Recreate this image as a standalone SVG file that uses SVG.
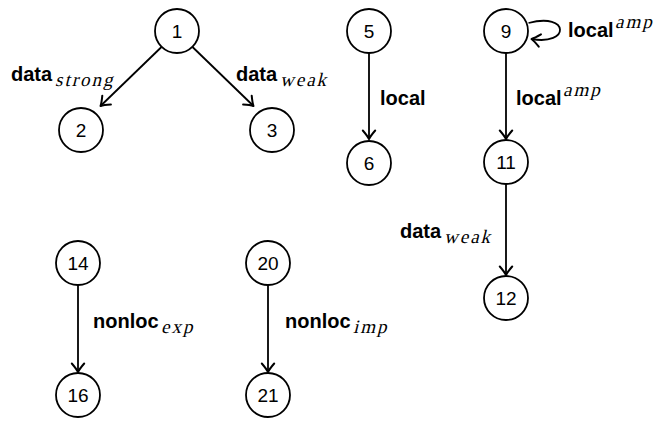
<svg xmlns="http://www.w3.org/2000/svg" width="659" height="426" viewBox="0 0 659 426">
<defs>
<marker id="ah" markerUnits="userSpaceOnUse" markerWidth="16" markerHeight="16" refX="12.5" refY="8" orient="auto" viewBox="0 0 16 16">
<path d="M4,1.8 Q9.5,6.5 12.5,8 Q9.5,9.5 4,14.2" fill="none" stroke="#000" stroke-width="2" stroke-linecap="round" stroke-linejoin="round"/>
</marker>
</defs>
<style>
.n circle{fill:#fff;stroke:#000;stroke-width:1.8}
.n text{font-family:"Liberation Sans",Arial,sans-serif;font-size:19px;text-anchor:middle;fill:#000}
.e{fill:none;stroke:#000;stroke-width:1.8;marker-end:url(#ah)}
.lb{font-family:"Liberation Sans",Arial,sans-serif;font-size:20px;font-weight:bold;fill:#000}
.m{font-family:"Liberation Serif","Times New Roman",serif;font-style:normal;font-size:19px;font-weight:normal;letter-spacing:2px;fill:#000}
</style>
<rect width="659" height="426" fill="#fff"/>
<g id="connectors">
<path class="e" d="M161.5,47 L100.5,106"/>
<path class="e" d="M192.5,47 L253.5,106"/>
<path class="e" d="M369,53 L369,139"/>
<path class="e" d="M506,53 L506,139"/>
<path class="e" d="M528.5,23 C570,12 570,46 531.5,39"/>
<path class="e" d="M506,184 L506,275"/>
<path class="e" d="M78,285 L78,372"/>
<path class="e" d="M268,285 L268,372"/>
</g>
<g id="labels">
<text class="lb" x="11" y="81">data</text>
<text class="m" transform="translate(55,86) skewX(-14)">strong</text>
<text class="lb" x="236" y="81">data</text>
<text class="m" transform="translate(280,86) skewX(-14)">weak</text>
<text class="lb" x="380" y="105">local</text>
<text class="lb" x="568" y="37">local</text>
<text class="m" transform="translate(615,28) skewX(-14)">amp</text>
<text class="lb" x="516" y="105">local</text>
<text class="m" transform="translate(563,96) skewX(-14)">amp</text>
<text class="lb" x="400" y="238">data</text>
<text class="m" transform="translate(444,243) skewX(-14)">weak</text>
<text class="lb" x="93" y="328">nonloc</text>
<text class="m" transform="translate(161,333) skewX(-14)">exp</text>
<text class="lb" x="285" y="328">nonloc</text>
<text class="m" transform="translate(353,333) skewX(-14)">imp</text>
</g>
<g id="node1" class="n"><circle cx="177" cy="31" r="22"/><text x="177" y="38">1</text></g>
<g id="node2" class="n"><circle cx="81" cy="130" r="22"/><text x="81" y="137">2</text></g>
<g id="node3" class="n"><circle cx="272" cy="130" r="22"/><text x="272" y="137">3</text></g>
<g id="node5" class="n"><circle cx="369" cy="31" r="22"/><text x="369" y="38">5</text></g>
<g id="node6" class="n"><circle cx="369" cy="163" r="22"/><text x="369" y="170">6</text></g>
<g id="node9" class="n"><circle cx="506" cy="31" r="22"/><text x="506" y="38">9</text></g>
<g id="node11" class="n"><circle cx="506" cy="162" r="22"/><text x="506" y="169">11</text></g>
<g id="node12" class="n"><circle cx="506" cy="298" r="22"/><text x="506" y="305">12</text></g>
<g id="node14" class="n"><circle cx="78" cy="263" r="22"/><text x="78" y="270">14</text></g>
<g id="node16" class="n"><circle cx="78" cy="395" r="22"/><text x="78" y="402">16</text></g>
<g id="node20" class="n"><circle cx="268" cy="263" r="22"/><text x="268" y="270">20</text></g>
<g id="node21" class="n"><circle cx="268" cy="395" r="22"/><text x="268" y="402">21</text></g>
</svg>
